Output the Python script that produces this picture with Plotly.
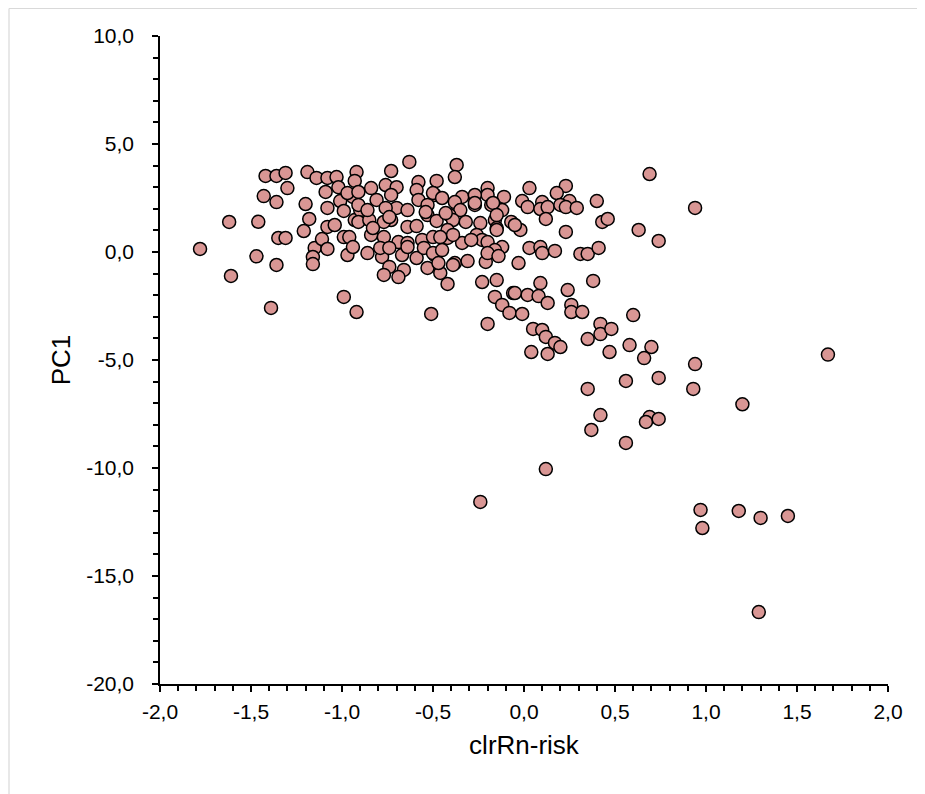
import plotly.graph_objects as go

# clrRn-risk values
x_vals = [
    -1.62, -1.46, -1.78, -1.47, -1.36, -1.61, -1.39, -0.99, -0.92, -1.42,
    -1.36, -1.31, -1.30, -1.43, -1.36, -1.19, -1.14, -1.20, -1.18, -1.21,
    -1.35, -1.31, -1.15, -1.11, -1.16, -1.16, -1.08, -1.08, -1.09, -1.01,
    -0.99, -1.08, -1.03, -1.02, -0.92, -0.94, -0.93, -0.99, -0.96, -1.08,
    -0.97, -0.94,
    -0.63, -0.73, -0.37, -0.38, -0.58, -0.48, -0.84, -0.76, -0.70, -0.93,
    -0.59, -0.49, -0.94, -0.81, -0.73, -0.58, -0.34, -0.27, -0.20, -0.20,
    -0.11, -0.18, -0.12, -0.38, -0.35, -0.41, -0.53, -0.53, -0.70, -0.76,
    -0.90, -0.91, -0.85, -0.73, -0.64, -0.59, -0.48, -0.39, -0.32, -0.24,
    -0.16, -0.15, -0.07, -0.84, -0.77, -0.69, -0.64, -0.56, -0.50, -0.42,
    -0.34, -0.26, -0.23, -0.12, -0.86, -0.78, -0.67, -0.59, -0.49, -0.38,
    -0.31, -0.21, -0.74, -0.66, -0.53, -0.46, -0.77, -0.69, -0.42, -0.23,
    -0.15, -0.16, -0.12, -0.06, -0.51,
    0.69, 0.03, 0.23, 0.18, -0.01, 0.10, 0.25, 0.40, 0.02, 0.09,
    0.13, 0.20, 0.23, 0.29, 0.12, 0.43, 0.46, 0.63, 0.74, 0.23,
    -0.02, -0.15, -0.20, 0.03, 0.09, 0.10, 0.17, 0.31, 0.35, 0.41,
    -0.03, -0.05, 0.02, 0.09, 0.08, 0.13, 0.24, 0.38, -0.08, -0.01,
    0.26, 0.26, 0.32, 0.60,
    -0.20, 0.05, 0.10, 0.12, 0.17, 0.20, 0.04, 0.13, 0.35, 0.42,
    0.42, 0.48, 0.47, 0.58, 0.70, 0.66, 0.94, 0.93, 0.74, 0.56,
    0.35, 0.42, 0.37, 0.56, 0.69, 0.67, 0.74,
    0.12, -0.24, 0.97, 0.98, 1.18, 1.30, 1.45, 1.29, 1.20, 1.67, 0.94,
    -0.97, -0.91, -0.91, -0.86, -0.77, -0.74, -1.04, -0.79, -0.74, -0.83,
    -0.50, -0.45, -0.27, -0.17, -0.27, -0.64, -0.54, -0.43, -0.15, -0.42,
    -0.39, -0.46, -0.64, -0.55, -0.50, -0.45, -0.29, -0.16, -0.20, -0.47,
    -0.39, -0.05, -0.14,
]

# PC1 values
y_vals = [
    1.39, 1.40, 0.14, -0.20, -0.60, -1.11, -2.59, -2.08, -2.78, 3.52,
    3.52, 3.66, 2.96, 2.59, 2.31, 3.70, 3.43, 2.22, 1.53, 0.97,
    0.65, 0.65, 0.19, 0.60, -0.23, -0.56, 1.16, 2.04, 2.78, 2.36,
    1.90, 3.43, 3.47, 3.00, 3.70, 2.64, 1.48, 0.69, 0.69, 0.14,
    -0.14, 0.23,
    4.17, 3.75, 4.03, 3.47, 3.24, 3.29, 2.96, 3.10, 3.00, 3.29,
    2.87, 2.64, 2.55, 2.41, 2.64, 2.41, 2.55, 2.18, 2.96, 2.64,
    2.55, 2.18, 1.94, 2.31, 1.94, 1.71, 2.18, 1.71, 2.04, 2.04,
    1.94, 1.39, 1.48, 1.48, 1.16, 1.20, 1.44, 1.48, 1.39, 1.34,
    1.48, 1.11, 1.39, 0.79, 0.69, 0.46, 0.42, 0.56, 0.69, 0.65,
    0.42, 0.79, 0.56, 0.23, -0.05, -0.23, -0.14, -0.28, -0.14, -0.51,
    -0.42, -0.46, -0.69, -0.83, -0.74, -0.97, -1.06, -1.16, -1.48, -1.39,
    -1.30, -2.08, -2.45, -1.90, -2.87,
    3.61, 2.96, 3.06, 2.73, 2.36, 2.31, 2.36, 2.36, 2.08, 1.99,
    2.08, 2.18, 2.08, 2.04, 1.53, 1.39, 1.53, 1.02, 0.51, 0.93,
    1.02, 1.02, 0.46, 0.19, 0.23, -0.05, 0.05, -0.09, -0.09, 0.19,
    -0.51, -1.90, -1.99, -1.44, -2.04, -2.36, -1.76, -1.34, -2.82, -2.87,
    -2.45, -2.78, -2.78, -2.92,
    -3.33, -3.56, -3.61, -3.93, -4.21, -4.40, -4.63, -4.72, -4.03, -3.33,
    -3.80, -3.56, -4.63, -4.31, -4.40, -4.91, -5.19, -6.34, -5.83, -5.97,
    -6.34, -7.55, -8.24, -8.84, -7.64, -7.87, -7.73,
    -10.05, -11.57, -11.94, -12.78, -11.99, -12.31, -12.22, -16.67, -7.05, -4.75, 2.04,
    2.73, 2.78, 2.18, 1.94, 1.39, 1.62, 1.25, 0.19, 0.19, 1.11,
    2.73, 2.50, 2.64, 2.27, 2.27, 1.94, 1.85, 1.80, 1.71, 1.02,
    0.79, 0.69, 0.23, 0.19, -0.05, 0.09, 0.56, 0.09, -0.05, -0.51,
    -0.60, 1.25, -0.19,
]

x_ticks = [-2.0, -1.5, -1.0, -0.5, 0.0, 0.5, 1.0, 1.5, 2.0]
y_ticks = [-20.0, -15.0, -10.0, -5.0, 0.0, 5.0, 10.0]


def fmt(v):
    return f"{v:.1f}".replace(".", ",")


FONT = "Liberation Sans, Arial, sans-serif"

# figure geometry (page body adds an 8px margin)
W, H = 917, 786
ML, MR, MT, MB = 152, 37, 28, 110
PW, PH = W - ML - MR, H - MT - MB

fig = go.Figure()
fig.add_trace(go.Scatter(
    x=x_vals, y=y_vals, mode="markers",
    marker=dict(size=13, color="rgb(217,150,148)",
                line=dict(color="black", width=1.5)),
    showlegend=False, hoverinfo="x+y",
))

axis_common = dict(
    showline=True, linecolor="black", linewidth=1.5, mirror=False,
    ticks="outside", ticklen=6, tickwidth=1.5, tickcolor="black",
    showgrid=False, zeroline=False,
    tickfont=dict(family=FONT, size=21, color="black"),
)

fig.update_xaxes(
    range=[-2, 2], tickvals=x_ticks, ticktext=[fmt(v) for v in x_ticks],
    title=dict(text="clrRn-risk", font=dict(family=FONT, size=26, color="black"), standoff=14),
    minor=dict(dtick=0.1, tick0=0, ticks="outside", ticklen=5, tickwidth=1.5, tickcolor="black"),
    ticklabelstandoff=2,
    **axis_common,
)
fig.update_yaxes(
    range=[-20, 10], tickvals=y_ticks, ticktext=[fmt(v) for v in y_ticks],
    title=dict(text="PC1", font=dict(family=FONT, size=26, color="black"), standoff=8),
    minor=dict(dtick=1, tick0=0, ticks="outside", ticklen=5, tickwidth=1.5, tickcolor="black"),
    ticklabelstandoff=14,
    **axis_common,
)

# chart-area border (only the left and top edges are inside the frame)
bx = (1 - ML) / PW
by = (PH + MT - 0.5) / PH
fig.add_shape(type="line", xref="paper", yref="paper",
              x0=bx, x1=(W - ML) / PW, y0=by, y1=by,
              line=dict(color="#d9d9d9", width=1.2))
fig.add_shape(type="line", xref="paper", yref="paper",
              x0=bx, x1=bx, y0=by, y1=-0.3,
              line=dict(color="#d9d9d9", width=1.2))

fig.update_layout(
    width=W, height=H,
    margin=dict(l=ML, r=MR, t=MT, b=MB),
    plot_bgcolor="white", paper_bgcolor="white",
    separators=", ",
    font=dict(family=FONT, color="black"),
)

fig.write_html("out.html")
